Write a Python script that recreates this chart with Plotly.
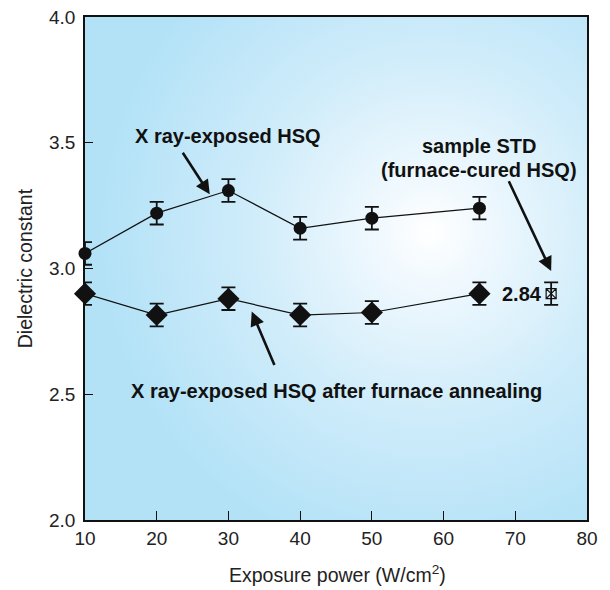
import base64
import plotly.graph_objects as go

# ---- data ----
power = [10, 20, 30, 40, 50, 65]
k_exposed = [3.06, 3.22, 3.31, 3.16, 3.20, 3.24]
k_annealed = [2.90, 2.815, 2.88, 2.815, 2.825, 2.90]
err_exposed = [0.045, 0.045, 0.045, 0.045, 0.045, 0.045]
err_annealed = [0.045, 0.045, 0.045, 0.045, 0.045, 0.045]
std_power = [75]
std_k = [2.90]
std_err = [0.045]
std_label = "2.84"
x_ticks = [10, 20, 30, 40, 50, 60, 70, 80]
y_ticks = [2.0, 2.5, 3.0, 3.5, 4.0]

FONT = "Liberation Sans, Arial, Helvetica, sans-serif"

fig = go.Figure()

ebar = dict(type="data", thickness=1.8, width=7, color="#111")

fig.add_trace(go.Scatter(
    x=power, y=k_exposed, mode="lines+markers",
    line=dict(color="#111", width=1.2),
    marker=dict(symbol="circle", size=13, color="#111"),
    error_y=dict(array=err_exposed, **ebar), cliponaxis=False, showlegend=False))

fig.add_trace(go.Scatter(
    x=power, y=k_annealed, mode="lines+markers",
    line=dict(color="#111", width=1.2),
    marker=dict(symbol="diamond", size=17, color="#111"),
    error_y=dict(array=err_annealed, **ebar), cliponaxis=False, showlegend=False))

fig.add_trace(go.Scatter(
    x=std_power, y=std_k, mode="markers",
    marker=dict(symbol="square-x-open", size=10, color="#111", line=dict(width=1.2)),
    error_y=dict(array=std_err, **ebar), cliponaxis=False, showlegend=False))

# radial gradient background (SVG)
svg = ('<svg xmlns="http://www.w3.org/2000/svg" width="502" height="502">'
       '<defs><radialGradient id="g" gradientUnits="userSpaceOnUse" cx="345" cy="215" r="330">'
       '<stop offset="0" stop-color="#ffffff"/>'
       '<stop offset="0.15" stop-color="#f1f9fe"/>'
       '<stop offset="0.55" stop-color="#cfecfa"/>'
       '<stop offset="1" stop-color="#b3e2f7"/>'
       '</radialGradient></defs>'
       '<rect width="502" height="502" fill="url(#g)"/></svg>')
src = "data:image/svg+xml;base64," + base64.b64encode(svg.encode()).decode()
fig.add_layout_image(dict(source=src, xref="x domain", yref="y domain", x=0, y=1,
                          sizex=1, sizey=1, sizing="stretch", layer="below",
                          xanchor="left", yanchor="top"))

bold = dict(family=FONT, size=20, color="#111")
fig.add_annotation(x=29.9, y=3.528, text="<b>X ray-exposed HSQ</b>", showarrow=False, font=bold)
fig.add_annotation(x=64.9, y=3.487, text="<b>sample STD</b>", showarrow=False, font=bold)
fig.add_annotation(x=64.9, y=3.393, text="<b>(furnace-cured HSQ)</b>", showarrow=False, font=bold)
fig.add_annotation(x=45.0, y=2.511, text="<b>X ray-exposed HSQ after furnace annealing</b>",
                   showarrow=False, font=bold)
fig.add_annotation(x=74.0, xanchor="right", y=std_k[0], text="<b>" + std_label + "</b>",
                   showarrow=False, font=bold)

arrow = dict(text="", showarrow=True, arrowhead=2, arrowsize=1.1, arrowwidth=2.6,
             arrowcolor="#111", axref="x", ayref="y", standoff=0, startstandoff=0)
fig.add_annotation(x=27.4, y=3.295, ax=23.5, ay=3.466, **arrow)
fig.add_annotation(x=75.0, y=2.99, ax=69.0, ay=3.353, **arrow)
fig.add_annotation(x=33.25, y=2.829, ax=36.5, ay=2.61, **arrow)

# axis titles
title_font = dict(family=FONT, size=19.5, color="#222")
fig.add_annotation(xref="paper", yref="paper", x=0.502, y=-0.107, yanchor="middle",
                   text="Exposure power (W/cm<sup>2</sup>)", showarrow=False, font=title_font)
fig.add_annotation(xref="paper", yref="paper", xanchor="center", x=-0.12, y=0.50,
                   text="Dielectric constant", textangle=-90, showarrow=False, font=title_font)

axis_common = dict(showgrid=False, zeroline=False, showline=True, linecolor="#111",
                   linewidth=1.5, mirror=True, ticks="inside", tickcolor="#111",
                   tickwidth=1.3, automargin=False,
                   tickfont=dict(family=FONT, size=19, color="#222"))

fig.update_xaxes(range=[10, 80], tickvals=x_ticks, ticklen=9, **axis_common)
fig.update_yaxes(range=[2.0, 4.0], tickvals=y_ticks, tickformat=".1f", ticklen=8,
                 ticklabelstandoff=4, **axis_common)

fig.update_layout(width=610, height=590, margin=dict(l=85, r=23, t=17, b=70),
                  paper_bgcolor="white", plot_bgcolor="#b3e2f7", showlegend=False)

fig.write_html("out.html", config={"displayModeBar": False},
               post_script="document.body.style.margin='0';document.body.style.overflow='hidden';")
